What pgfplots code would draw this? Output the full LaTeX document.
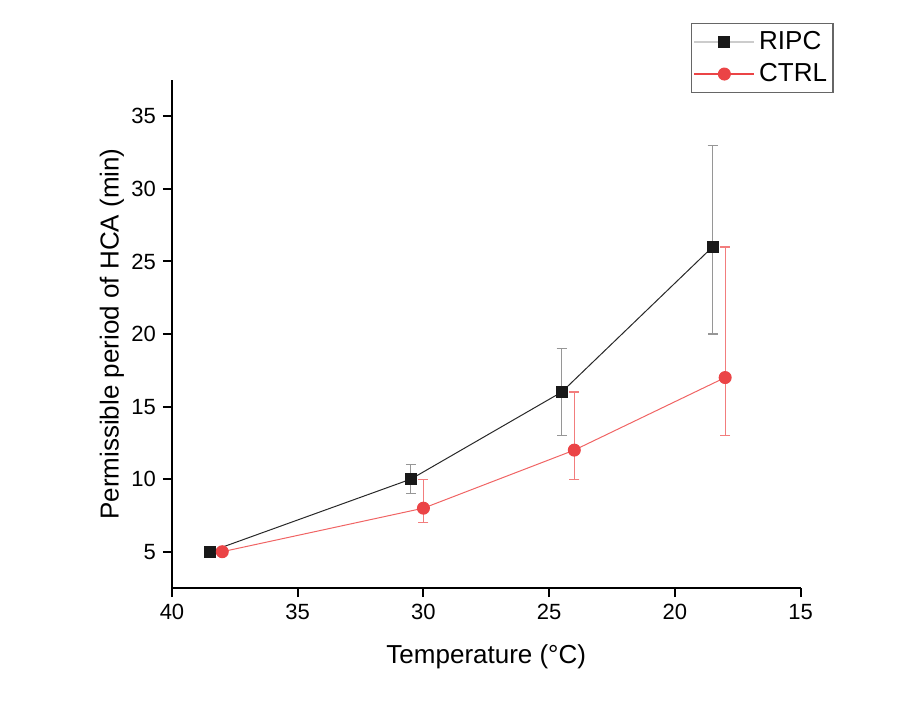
\documentclass[border=0pt]{standalone}
\usepackage{pgfplots}
\pgfplotsset{compat=1.18}
\usepackage{fontspec}
\setmainfont{Liberation Sans}
\definecolor{ripcline}{RGB}{40,40,40}
\definecolor{ripcerr}{RGB}{150,150,150}
\definecolor{ctrlred}{RGB}{235,68,70}
\definecolor{ctrlline}{RGB}{240,100,100}
\definecolor{ctrlerr}{RGB}{242,125,125}
\pgfplotsset{
  ripclegend/.style={legend image code/.code={
    \draw[black!20, line width=0.8pt] (0pt,0pt) -- (30pt,0pt);
    \draw[mark=square*, mark size=2.75pt, mark options={fill=black!90, draw=black!90}] plot coordinates {(15pt,0pt)};}},
  ctrllegend/.style={legend image code/.code={
    \draw[ctrlred, line width=0.6pt] (0pt,0pt) -- (30pt,0pt);
    \draw[mark=*, mark size=3pt, mark options={fill=ctrlred, draw=ctrlred}] plot coordinates {(15pt,0pt)};}},
}
\pgfplotstableread{
x y ep em
38.5 5 0 0
30.5 10 1 1
24.5 16 3 3
18.5 26 7 6
}\ripc
\pgfplotstableread{
x y ep em
38 5 0 0
30 8 2 1
24 12 4 2
18 17 9 4
}\ctrl
\begin{document}
\begin{tikzpicture}
\begin{axis}[
  name=ax,
  scale only axis,
  width=314.3pt, height=254pt,
  xmin=15, xmax=40, x dir=reverse,
  ymin=2.5, ymax=37.5,
  xtick={15,20,...,40}, ytick={5,10,...,35},
  axis x line*=bottom, axis y line*=left,
  axis line style={line width=1pt, black},
  tick align=outside,
  major tick length=4.5pt,
  every tick/.style={line width=1pt, black},
  tick label style={font=\fontsize{11}{13}\selectfont},
  /pgf/number format/assume math mode=true,
  xlabel={Temperature (°C)},
  ylabel={Permissible period of HCA (min)},
  every axis x label/.style={at={(axis description cs:0.5,0)}, yshift=-37.5pt, anchor=base, font=\fontsize{13}{15}\selectfont},
  every axis y label/.style={at={(axis description cs:0,0.5)}, xshift=-30pt, rotate=90, anchor=center, font=\fontsize{13}{15}\selectfont},
  legend style={at={(axis description cs:0.8256,0.974)}, anchor=south west,
    draw=black!60, line width=0.6pt, font=\fontsize{13}{15}\selectfont,
    inner xsep=1pt, inner ysep=3pt, row sep=3.5pt, cells={anchor=west},
    nodes={inner xsep=2pt, inner ysep=1pt}},
  legend cell align=left,
  clip=false,
]
\addplot[color=ripcline, line width=0.5pt, mark=square*, mark size=2.75pt,
  mark options={solid, fill=black!90, draw=black!90}, ripclegend,
  error bars/.cd, y dir=both, y explicit,
  error bar style={color=ripcerr, line width=0.6pt},
  error mark options={rotate=90, mark size=2.5pt, line width=0.6pt, color=ripcerr}]
  table[x=x, y=y, y error plus=ep, y error minus=em] {\ripc};
\addlegendentry{RIPC}
\addplot[color=ctrlline, line width=0.5pt, mark=*, mark size=3pt,
  mark options={solid, fill=ctrlred, draw=ctrlred}, ctrllegend,
  error bars/.cd, y dir=both, y explicit,
  error bar style={color=ctrlerr, line width=0.6pt},
  error mark options={rotate=90, mark size=2.5pt, line width=0.6pt, color=ctrlerr}]
  table[x=x, y=y, y error plus=ep, y error minus=em] {\ctrl};
\addlegendentry{CTRL}
\end{axis}
\path (ax.south west) ++(-86pt,-57pt) rectangle ++(458.5pt,351pt);
\end{tikzpicture}
\end{document}
